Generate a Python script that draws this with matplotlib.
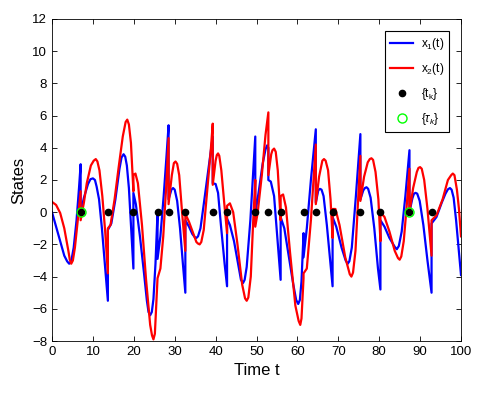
import numpy as np
import matplotlib.pyplot as plt

plt.rcParams['font.family'] = ['Liberation Sans', 'DejaVu Sans']
plt.rcParams['mathtext.fontset'] = 'custom'
plt.rcParams['mathtext.rm'] = 'Liberation Sans'
plt.rcParams['mathtext.it'] = 'Liberation Sans:italic'

# x1(t): (t, value) pairs; repeated t = jump at an event
x1_t = [0, 1, 2, 3, 3.7, 4.2, 4.7, 5.3, 6, 6.6, 7.0, 7.0, 7.8, 8.8, 9.4, 10.0, 10.5, 10.9, 11.5, 12.2, 13.0, 13.66, 13.66,
        14.5, 15.5, 16.5, 17.0, 17.5, 17.9, 18.3, 18.8, 19.4, 19.9, 19.9, 20.5, 21.5, 22.5, 23.2, 23.6, 24.0, 24.4, 24.8, 25.3, 25.8, 25.8,
        26.5, 27.3, 28.0, 28.5, 28.5, 29.2, 29.6, 30.0, 30.6, 31.3, 32.0, 32.6, 32.6, 33.5, 34.3, 34.9, 35.3, 35.7, 36.3, 37.0, 38.2, 39.3, 39.3,
        40.0, 40.6, 41.3, 42.2, 42.8, 42.8, 43.5, 44.5, 45.5, 46.2, 46.7, 47.1, 47.6, 48.5, 49.2, 49.7, 49.7,
        50.5, 51.5, 52.2, 52.6, 52.9, 52.9, 53.5, 54.3, 55.0, 55.9, 55.9, 56.8, 57.8, 59.0, 59.7, 60.2, 60.6, 61.0, 61.5, 61.5,
        62.3, 63.3, 64.5, 64.5, 65.1, 65.5, 65.9, 66.4, 67.2, 68.0, 68.6, 68.6, 69.5, 70.8, 71.8, 72.3, 72.7, 73.3, 74.3, 75.4, 75.4,
        76.1, 76.5, 76.9, 77.3, 77.9, 78.8, 79.7, 80.3, 80.3, 81.3, 82.5, 83.8, 84.3, 84.8, 85.5, 86.4, 87.4, 87.4,
        88.1, 88.5, 88.9, 89.3, 89.9, 90.8, 91.8, 92.8, 92.8, 94.0, 95.3, 96.2, 96.8, 97.3, 97.7, 98.2, 98.8, 99.5, 100]
x1_v = [0, -0.9, -1.8, -2.7, -3.05, -3.2, -3.05, -2.2, -0.5, 1.5, 2.98, 0.0, 0.9, 1.75, 2.05, 2.1, 2.0, 1.6, 0.8, -1.0, -3.5, -5.5, -1.1,
        -0.7, 0.8, 2.7, 3.4, 3.6, 3.45, 2.9, 1.5, -1.2, -3.5, 1.2, 0.5, -1.5, -3.8, -5.5, -6.2, -6.4, -6.2, -5.4, -3.2, 0.0, -2.9,
        -1.5, 1.0, 3.5, 5.4, 0.8, 1.4, 1.5, 1.4, 0.7, -1.0, -3.2, -5.0, -0.5, -0.9, -1.35, -1.55, -1.6, -1.5, -1.0, 0.3, 2.6, 4.7, 1.8,
        1.75, 1.2, -0.8, -3.2, -4.6, -0.4, -0.8, -1.8, -3.2, -4.2, -4.4, -4.2, -3.4, -0.5, 2.5, 4.7, -0.1,
        1.2, 3.0, 3.9, 4.15, 4.0, 2.0, 1.9, 1.0, -1.3, -4.2, -0.3, -1.0, -2.6, -4.5, -5.45, -5.7, -5.45, -4.3, -1.3, -2.8,
        -1.0, 2.0, 5.15, 0.6, 1.35, 1.45, 1.4, 1.0, -0.8, -3.0, -4.6, -0.3, -0.9, -2.2, -3.0, -3.2, -3.05, -2.2, 1.0, 4.85, 0.8,
        1.35, 1.5, 1.55, 1.45, 0.9, -1.0, -3.5, -4.8, -0.5, -0.9, -1.6, -2.15, -2.3, -2.1, -1.2, 1.0, 3.85, 0.0,
        0.85, 1.15, 1.2, 1.15, 0.7, -0.8, -3.0, -5.0, -0.7, -0.3, 0.6, 1.15, 1.42, 1.5, 1.4, 0.9, -0.5, -2.5, -3.9]

# x2(t)
x2_t = [0, 1, 2, 3, 4, 4.35, 4.7, 5.1, 5.6, 6.3, 7.0, 7.0, 7.8, 8.5, 9.5, 10.2, 10.7, 11.1, 11.6, 12.3, 13.0, 13.66, 13.66,
        14.3, 15.3, 16.3, 17.3, 18.0, 18.4, 18.8, 19.3, 19.9, 19.9, 20.4, 21.0, 22.0, 23.0, 24.0, 24.45, 24.8, 25.15, 25.8,
        26.5, 27.2, 27.9, 28.5, 28.5, 29.3, 29.8, 30.2, 30.6, 31.1, 31.8, 32.6, 32.6, 33.5, 34.5, 35.3, 35.7, 36.1, 36.5, 37.1, 38.0, 38.8, 39.3, 39.3,
        40.0, 40.3, 40.6, 40.9, 41.4, 42.1, 42.8, 42.8, 43.5, 44.3, 45.3, 46.5, 47.2, 47.6, 48.0, 48.6, 49.2, 49.7, 49.7,
        50.3, 51.3, 52.2, 52.9, 52.9, 53.6, 53.9, 54.3, 54.7, 55.2, 55.9, 55.9, 56.5, 57.2, 58.2, 59.5, 60.3, 60.7, 61.0, 61.5, 61.5,
        62.3, 63.3, 64.5, 64.5, 65.3, 66.1, 66.5, 66.9, 67.5, 68.1, 68.6, 68.6, 69.3, 70.3, 71.7, 72.8, 73.2, 73.6, 74.2, 74.8, 75.4, 75.4,
        76.3, 77.2, 77.7, 78.1, 78.5, 79.1, 79.8, 80.3, 80.3, 81.3, 82.5, 83.8, 84.6, 85.0, 85.4, 86.0, 86.7, 87.4, 87.4,
        88.3, 89.2, 89.6, 90.0, 90.4, 91.0, 91.8, 92.8, 92.8, 94.0, 95.5, 96.8, 97.6, 98.0, 98.4, 99.0, 99.5, 100]
x2_v = [0.64, 0.45, -0.05, -1.0, -2.4, -2.95, -3.2, -3.0, -2.2, -0.5, 1.3, -0.5, 0.6, 1.8, 2.9, 3.2, 3.3, 3.15, 2.6, 1.0, -1.2, -3.8, -1.0,
        -0.8, 0.8, 2.8, 4.7, 5.6, 5.75, 5.45, 4.3, 1.3, 2.3, 2.4, 1.8, -0.8, -4.2, -7.0, -7.65, -7.9, -7.55, -4.1,
        -3.5, -1.5, 1.5, 4.6, 0.5, 2.3, 3.05, 3.15, 3.0, 2.3, 0.0, -2.4, -0.1, -0.6, -1.3, -1.85, -1.95, -2.0, -1.85, -1.1, 1.5, 3.8, 5.5, 1.7,
        3.2, 3.55, 3.65, 3.5, 2.6, 0.6, -1.3, 0.4, 0.55, 0.0, -1.9, -4.5, -5.35, -5.5, -5.3, -4.0, -0.5, 2.0, -0.9,
        0.0, 2.3, 4.8, 6.2, 2.3, 3.6, 3.85, 3.95, 3.75, 2.6, -0.5, 1.0, 1.1, 0.3, -2.5, -5.8, -6.75, -7.0, -6.6, -4.1, -3.8,
        -3.5, -0.5, 4.2, 0.5, 2.2, 3.2, 3.3, 3.2, 2.6, 0.8, -1.6, 0.2, 0.2, -0.8, -2.8, -3.85, -4.0, -3.75, -2.4, 0.5, 3.5, 0.7,
        2.2, 3.1, 3.3, 3.35, 3.25, 2.5, 0.8, -1.8, 0.0, -0.3, -1.2, -2.4, -2.85, -2.95, -2.75, -1.8, 0.3, 2.7, 0.0,
        1.5, 2.5, 2.75, 2.8, 2.7, 2.0, 0.2, -2.7, -0.5, -0.2, 0.8, 2.0, 2.3, 2.4, 2.3, 1.4, 0.2, -1.5]

# event times
t_k = [7.0, 13.66, 19.9, 25.8, 28.5, 32.6, 39.3, 42.8, 49.7, 52.9, 55.9,
       61.5, 64.5, 68.6, 75.4, 80.3, 87.4, 92.8]
tau_k = [7.0, 87.4]

fig = plt.figure(figsize=(5.03, 3.94), dpi=100)
ax = fig.add_axes([0.1034, 0.1345, 0.8131, 0.8173])

ax.plot(x1_t, x1_v, color='#0000FF', linewidth=1.6, label=r'$\mathregular{x_1(t)}$')
ax.plot(x2_t, x2_v, color='#FF0000', linewidth=1.6, label=r'$\mathregular{x_2(t)}$')
ax.plot(t_k, np.zeros(len(t_k)), 'o', color='black', markersize=4.5, zorder=4,
        label=r'$\mathregular{\{t_k\}}$')
ax.plot(tau_k, np.zeros(len(tau_k)), 'o', markerfacecolor='none', markeredgecolor='#00FF00',
        markersize=6.5, markeredgewidth=1.0, zorder=5, label=r'$\mathregular{\{}\tau_k\mathregular{\}}$')

ax.set_xlim(0, 100)
ax.set_ylim(-8, 12)
ax.set_xticks(np.arange(0, 101, 10))
ax.set_yticks(np.arange(-8, 13, 2))
ax.tick_params(direction='in', top=True, right=True, labelsize=9.5, length=3.5, width=0.6)
for s in ax.spines.values():
    s.set_linewidth(0.6)
ax.set_xlabel('Time t', fontsize=12)
ax.set_ylabel('States', fontsize=12)

leg = ax.legend(loc='upper right', fontsize=8.5, handlelength=2.0, handletextpad=0.6,
                borderpad=0.45, borderaxespad=1.0, markerscale=1.0,
                fancybox=False, edgecolor='black', framealpha=1, labelspacing=0.75)
leg.get_frame().set_linewidth(0.8)

fig.savefig('out.png', dpi=100)
